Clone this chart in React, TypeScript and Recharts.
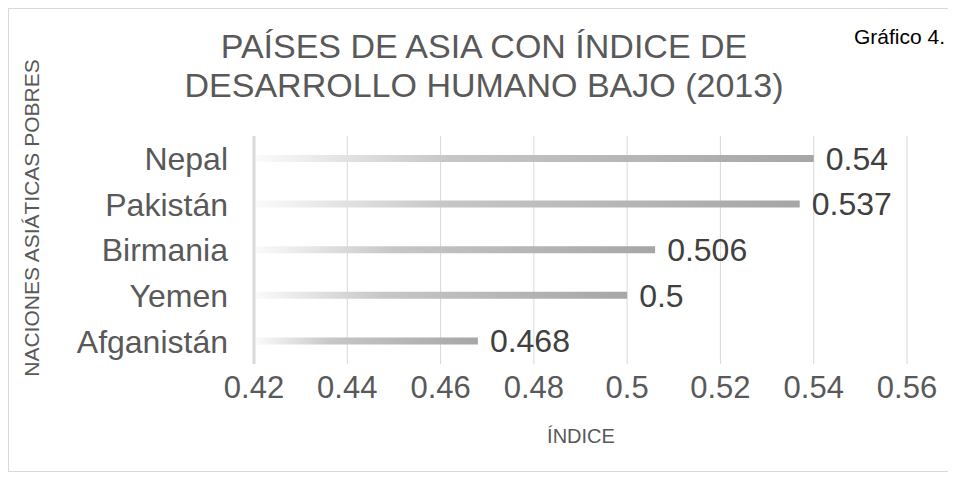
import React from "react";
import {Bar, BarChart, CartesianGrid, LabelList, XAxis, YAxis} from "recharts";

const paises = ["Nepal", "Pakistán", "Birmania", "Yemen", "Afganistán"];
const indices = [0.54, 0.537, 0.506, 0.5, 0.468];
const ejeTicks = [0.42, 0.44, 0.46, 0.48, 0.5, 0.52, 0.54, 0.56];

const data = paises.map((pais, i) => ({pais, indice: indices[i]}));

const fuente = '"Liberation Sans", Arial, sans-serif';
const gris = "#595959";

const App: React.FC = () => {
    return <div style={{
        position: "relative", width: 942, height: 464, boxSizing: "border-box",
        border: "1px solid #d9d9d9", background: "#fff", fontFamily: fuente
    }}>
        <BarChart width={940} height={462} data={data} layout="vertical"
                  margin={{top: 127, right: 42, left: 0, bottom: 0}}>
            <defs>
                <linearGradient id="barra" x1="0" y1="0" x2="1" y2="0">
                    <stop offset="0" stopColor="#fbfbfb" />
                    <stop offset="0.35" stopColor="#c6c6c6" />
                    <stop offset="1" stopColor="#a6a6a6" />
                </linearGradient>
            </defs>
            <CartesianGrid horizontal={false} stroke="#d9d9d9" />
            <XAxis type="number" domain={[0.42, 0.56]} ticks={ejeTicks} height={107}
                   axisLine={false} tickLine={false} tickSize={0} tickMargin={12}
                   tick={{fontSize: 31, fill: gris, fontFamily: fuente}}
                   tickFormatter={(v: number) => String(v)} />
            <YAxis type="category" dataKey="pais" width={245}
                   axisLine={{stroke: "#d9d9d9", strokeWidth: 3}} tickLine={false}
                   tickSize={0} tickMargin={26}
                   tick={{fontSize: 32, fill: gris, fontFamily: fuente}} />
            <Bar dataKey="indice" fill="url(#barra)" barSize={7} isAnimationActive={false}>
                <LabelList dataKey="indice" position="right" offset={12}
                           style={{fontSize: 32, fill: "#404040", fontFamily: fuente}} />
            </Bar>
        </BarChart>
        <div style={{
            position: "absolute", left: 175, top: 18, width: 600, textAlign: "center",
            fontSize: 34, lineHeight: "39px", color: gris
        }}>
            PAÍSES DE ASIA CON ÍNDICE DE<br />DESARROLLO HUMANO BAJO (2013)
        </div>
        <div style={{
            position: "absolute", right: 4, top: 16, fontSize: 21, color: "#000"
        }}>
            Gráfico 4.
        </div>
        <div style={{
            position: "absolute", left: 23 - 200, top: 209 - 12, width: 400, height: 24,
            lineHeight: "24px", textAlign: "center", fontSize: 21, color: gris,
            transform: "rotate(-90deg)"
        }}>
            NACIONES ASIÁTICAS POBRES
        </div>
        <div style={{
            position: "absolute", left: 472, top: 416, width: 200, textAlign: "center",
            fontSize: 20, color: gris
        }}>
            ÍNDICE
        </div>
    </div>
}

export default App;
